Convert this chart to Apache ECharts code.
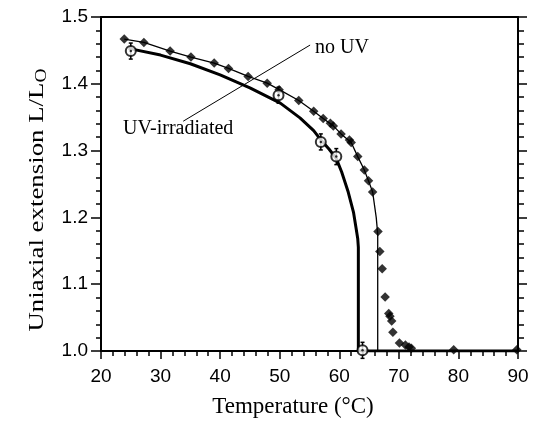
<!DOCTYPE html>
<html>
<head>
<meta charset="utf-8">
<script src="https://cdn.jsdelivr.net/npm/echarts@6/dist/echarts.min.js"></script>
<style>html,body{margin:0;padding:0;background:#fff;}#c{width:540px;height:426px;}</style>
</head>
<body>
<div id="c"></div>
<script>
// --- data ---
var noUvT = [23.9, 27.2, 31.6, 35.1, 39.0, 41.4, 44.7, 47.9, 49.9, 53.2, 55.7, 57.3, 58.5, 59.0, 60.3, 61.7, 62.0, 63.1, 64.2, 64.9, 65.6, 66.5, 66.8, 67.2, 67.7, 68.3, 68.5, 68.8, 69.0, 70.1, 71.1, 71.7, 72.1, 79.2, 89.8];
var noUvL = [1.467, 1.462, 1.449, 1.440, 1.431, 1.423, 1.411, 1.401, 1.391, 1.375, 1.359, 1.348, 1.341, 1.337, 1.325, 1.316, 1.312, 1.291, 1.271, 1.255, 1.238, 1.179, 1.149, 1.123, 1.081, 1.056, 1.052, 1.045, 1.028, 1.012, 1.009, 1.006, 1.004, 1.002, 1.002];
var uvT = [25.0, 49.8, 56.9, 59.5, 63.9];
var uvL = [1.449, 1.383, 1.313, 1.291, 1.001];
var uvErr = [0.012, 0.012, 0.012, 0.012, 0.012];
var noUvFitT = [23.9, 27.2, 31.6, 35.1, 39.0, 41.4, 44.7, 47.9, 50.0, 53.2, 55.7, 57.3, 59.0, 60.3, 62.0, 63.1, 64.2, 64.9, 65.6, 66.2, 66.45, 66.45, 90];
var noUvFitL = [1.467, 1.462, 1.449, 1.440, 1.431, 1.423, 1.411, 1.401, 1.391, 1.375, 1.359, 1.348, 1.337, 1.325, 1.312, 1.291, 1.271, 1.255, 1.238, 1.200, 1.175, 1.000, 1.000];
var uvFitT = [24.6, 30, 35, 40, 45, 50.1, 53.4, 55.7, 57.0, 58.3, 59.5, 60.4, 61.5, 62.4, 62.8, 63.1, 63.2, 63.2, 90];
var uvFitL = [1.453, 1.443, 1.430, 1.4135, 1.394, 1.371, 1.349, 1.330, 1.315, 1.302, 1.288, 1.268, 1.238, 1.207, 1.185, 1.168, 1.155, 1.000, 1.000];
var leaderT = [33.8, 55.1];
var leaderL = [1.344, 1.458];
var xTicks = [20, 30, 40, 50, 60, 70, 80, 90];
var yTicks = [1.0, 1.1, 1.2, 1.3, 1.4, 1.5];
var xTitle = 'Temperature (\u00B0C)';
var yTitle = 'Uniaxial extension L/L{sub|O}';

function zip(a, b) { return a.map(function (v, i) { return [v, b[i]]; }); }

var chart = echarts.init(document.getElementById('c'), null, { renderer: 'canvas' });
var SANS = 'Liberation Sans, Arial, sans-serif';
var SERIF = 'Liberation Serif, Times New Roman, serif';

var option = {
  backgroundColor: '#fff',
  animation: false,
  grid: { left: 101, right: 22, top: 17, bottom: 75 },
  xAxis: [{
    type: 'value', min: xTicks[0], max: xTicks[xTicks.length - 1], interval: 10,
    position: 'bottom',
    axisLine: { lineStyle: { color: '#000', width: 2 } },
    axisTick: { show: true, length: 8, lineStyle: { color: '#000', width: 1.5 } },
    minorTick: { show: true, splitNumber: 5, length: 5, lineStyle: { color: '#000', width: 1.5 } },
    splitLine: { show: false },
    axisLabel: { color: '#000', fontFamily: SANS, fontSize: 19, margin: 16 }
  }, {
    type: 'value', min: xTicks[0], max: xTicks[xTicks.length - 1], interval: 10,
    position: 'top',
    axisLine: { lineStyle: { color: '#000', width: 2 } },
    axisTick: { show: false }, axisLabel: { show: false }, splitLine: { show: false }
  }],
  yAxis: [{
    type: 'value', min: yTicks[0], max: yTicks[yTicks.length - 1], interval: 0.1,
    position: 'left',
    axisLine: { show: true, lineStyle: { color: '#000', width: 2 } },
    axisTick: { show: true, length: 10, lineStyle: { color: '#000', width: 1.5 } },
    minorTick: { show: true, splitNumber: 5, length: 5, lineStyle: { color: '#000', width: 1.5 } },
    splitLine: { show: false },
    axisLabel: { color: '#000', fontFamily: SANS, fontSize: 19, margin: 13,
      formatter: function (v) { return v.toFixed(1); } }
  }, {
    type: 'value', min: yTicks[0], max: yTicks[yTicks.length - 1], interval: 0.1,
    position: 'right',
    axisLine: { show: true, lineStyle: { color: '#000', width: 2 } },
    axisTick: { show: true, length: 9, lineStyle: { color: '#000', width: 1.5 } },
    minorTick: { show: true, splitNumber: 5, length: 6, lineStyle: { color: '#000', width: 1.5 } },
    splitLine: { show: false }, axisLabel: { show: false }
  }],
  series: [
    { type: 'line', data: zip(leaderT, leaderL), symbol: 'none', lineStyle: { color: '#000', width: 1 }, z: 1 },
    { type: 'line', data: zip(noUvFitT, noUvFitL), symbol: 'none', lineStyle: { color: '#000', width: 1.3 }, z: 2 },
    { type: 'line', data: zip(uvFitT, uvFitL), symbol: 'none', lineStyle: { color: '#000', width: 3 }, z: 2 },
    { type: 'scatter', data: zip(noUvT, noUvL), symbol: 'diamond', symbolSize: 9.5, itemStyle: { color: '#000' }, z: 3 },
    { type: 'custom', z: 4, data: uvT.map(function (t, i) { return [t, uvL[i], uvErr[i]]; }),
      renderItem: function (params, api) {
        var t = api.value(0), l = api.value(1), e = api.value(2);
        var p1 = api.coord([t, l + e]);
        var p2 = api.coord([t, l - e]);
        return { type: 'group', children: [
          { type: 'line', shape: { x1: p1[0], y1: p1[1], x2: p2[0], y2: p2[1] }, style: { stroke: '#000', lineWidth: 1.5 } },
          { type: 'line', shape: { x1: p1[0] - 2, y1: p1[1], x2: p1[0] + 2, y2: p1[1] }, style: { stroke: '#000', lineWidth: 1.5 } },
          { type: 'line', shape: { x1: p2[0] - 2, y1: p2[1], x2: p2[0] + 2, y2: p2[1] }, style: { stroke: '#000', lineWidth: 1.5 } }
        ] };
      } },
    { type: 'scatter', data: zip(uvT, uvL), symbol: 'circle', symbolSize: 10,
      itemStyle: { color: '#fff', borderColor: '#000', borderWidth: 2 }, z: 5 },
    { type: 'scatter', data: zip(uvT, uvL), symbol: 'circle', symbolSize: 2.5,
      itemStyle: { color: '#000' }, z: 6 }
  ],
  graphic: [
    { type: 'text', left: 315, top: 38, style: { text: 'no UV', fontFamily: SERIF, fontSize: 20, fill: '#000' } },
    { type: 'text', left: 123, top: 119, style: { text: 'UV-irradiated', fontFamily: SERIF, fontSize: 20, fill: '#000' } },
    { type: 'text', x: 293, y: 407, style: { text: xTitle, fontFamily: SERIF, fontSize: 23, fill: '#000', align: 'center', verticalAlign: 'middle' } },
    { type: 'text', x: 37, y: 200, rotation: Math.PI / 2, scaleX: 1.22,
      style: { text: yTitle, fontFamily: SERIF, fontSize: 22, fill: '#000', align: 'center', verticalAlign: 'middle',
        rich: { sub: { fontFamily: SERIF, fontSize: 16, fill: '#000', verticalAlign: 'bottom', padding: [9, 0, 0, 0] } } } }
  ]
};
chart.setOption(option);
</script>
</body>
</html>
